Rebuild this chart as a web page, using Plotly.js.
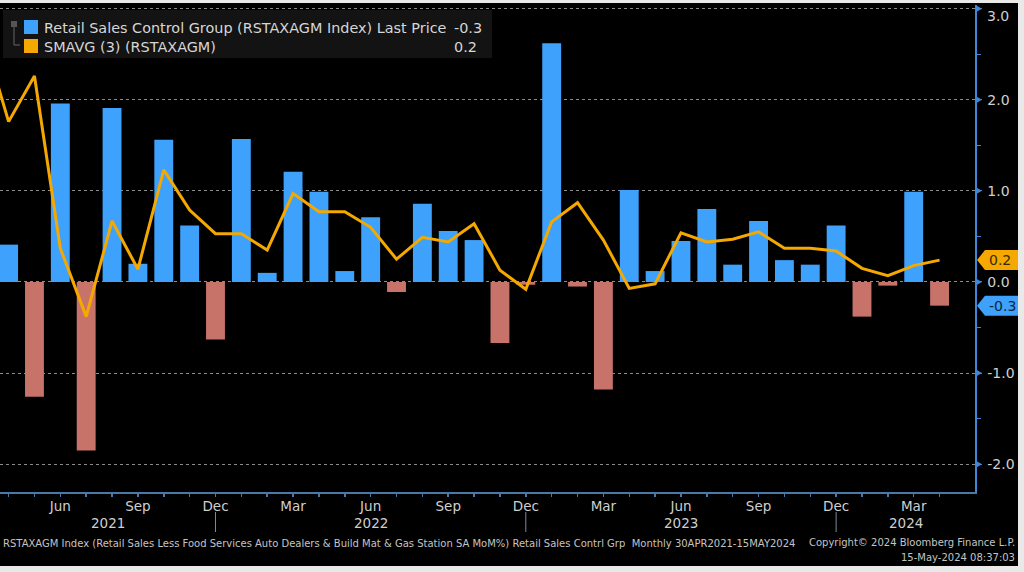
<!DOCTYPE html>
<html>
<head>
<meta charset="utf-8">
<script src="https://cdn.plot.ly/plotly-3.0.1.min.js"></script>
<style>
  html, body { margin: 0; padding: 0; background: #e9e9e9; width: 1024px; height: 572px; overflow: hidden; }
  #chart { position: absolute; left: 0; top: 3px; width: 1018px; height: 563px; background: #000; }
</style>
</head>
<body>
<div id="chart"></div>
<script>
// ---------- data ----------
const months = ['Mar 2021','Apr 2021','May 2021','Jun 2021','Jul 2021','Aug 2021','Sep 2021','Oct 2021','Nov 2021','Dec 2021',
  'Jan 2022','Feb 2022','Mar 2022','Apr 2022','May 2022','Jun 2022','Jul 2022','Aug 2022','Sep 2022','Oct 2022','Nov 2022','Dec 2022',
  'Jan 2023','Feb 2023','Mar 2023','Apr 2023','May 2023','Jun 2023','Jul 2023','Aug 2023','Sep 2023','Oct 2023','Nov 2023','Dec 2023',
  'Jan 2024','Feb 2024','Mar 2024','Apr 2024'];
const controlGroup = [null, 0.41, -1.26, 1.96, -1.85, 1.91, 0.20, 1.56, 0.62, -0.63,
  1.57, 0.10, 1.21, 0.99, 0.12, 0.71, -0.11, 0.86, 0.56, 0.46, -0.67, -0.03,
  2.62, -0.05, -1.18, 1.01, 0.12, 0.45, 0.80, 0.19, 0.67, 0.24, 0.19, 0.62,
  -0.38, -0.04, 0.99, -0.26];
const smavg3 = [2.72, 1.76, 2.26, 0.37, -0.38, 0.67, 0.14, 1.23, 0.79, 0.53,
  0.53, 0.35, 0.97, 0.77, 0.77, 0.60, 0.25, 0.49, 0.44, 0.64, 0.13, -0.08,
  0.66, 0.87, 0.46, -0.07, -0.02, 0.54, 0.44, 0.47, 0.55, 0.37, 0.37, 0.34,
  0.15, 0.07, 0.18, 0.24];
const quarterMonths = ['Mar','Jun','Sep','Dec'];
const years = ['2021','2022','2023','2024'];
const yTicks = [-2, -1, 0, 1, 2, 3];
const seriesNames = ['Retail Sales Control Group (RSTAXAGM Index) Last Price', 'SMAVG (3) (RSTAXAGM)'];
const lastControl = '-0.3';
const lastSma = '0.2';
const footerLeft = 'RSTAXAGM Index (Retail Sales Less Food Services Auto Dealers & Build Mat & Gas Station SA MoM%) Retail Sales Contrl Grp  Monthly 30APR2021-15MAY2024';
const footerRight1 = 'Copyright\u00A9 2024 Bloomberg Finance L.P.';
const footerRight2 = '15-May-2024 08:37:03';

// ---------- styling ----------
const BLUE = '#3ea1fb', RED = '#c8736a', ORANGE = '#f5a800';
const TXT = '#cfcfcf';
const FONT = 'DejaVu Sans, Liberation Sans, sans-serif';
const W = 1018, H = 563, ML = 0, MR = 43, MT = 2, MB = 74;
const PW = W - ML - MR, PH = H - MT - MB;
// page-pixel helpers -> paper coordinates (div top at page y=3)
const px = x => (x - ML) / PW;
const py = y => 1 - ((y - 3) - MT) / PH;

const xRange = [0.667, 38.37];
const yRange = [-2.305, 3.04];

const tickText = months.map(m => quarterMonths.includes(m.slice(0,3)) ? m.slice(0,3) : '');
const barColors = controlGroup.map(v => v === null ? BLUE : (v >= 0 ? BLUE : RED));

const traces = [
  { type: 'bar', x: months, y: controlGroup, marker: { color: barColors, line: { width: 0 } },
    width: 0.73, name: seriesNames[0], hoverinfo: 'x+y' },
  { type: 'scatter', mode: 'lines', x: months, y: smavg3, line: { color: ORANGE, width: 3 },
    name: seriesNames[1], cliponaxis: true }
];

const shapes = [];
const annotations = [];

// December separators & year labels
const decIdx = months.map((m, i) => m.startsWith('Dec') ? i : -1).filter(i => i >= 0);
decIdx.forEach(i => shapes.push({ type: 'line', xref: 'x', yref: 'paper', x0: i, x1: i, y0: py(512), y1: py(532),
  line: { color: '#7d8b99', width: 1 } }));
const bounds = [xRange[0], ...decIdx, xRange[1]];
years.forEach((yr, k) => annotations.push({ xref: 'x', yref: 'paper', x: (bounds[k] + bounds[k+1]) / 2, y: py(523),
  text: yr, showarrow: false, font: { family: FONT, size: 13.5, color: TXT }, xanchor: 'center', yanchor: 'middle' }));

// right-axis triangle markers at major ticks
const pxW = 1 / PW;
yTicks.forEach(v => {
  const dy = 4 * (yRange[1] - yRange[0]) / PH;
  shapes.push({ type: 'path', xref: 'paper', yref: 'y', fillcolor: '#3f86d8', line: { width: 0 },
    path: `M1,${v - dy} L${1 + 7 * pxW},${v} L1,${v + dy} Z` });
});
// top tick label (pushed down inside the frame as in the reference)
const topTick = Math.max(...yTicks);
annotations.push({ xref: 'paper', yref: 'paper', x: px(985), y: py(16), text: topTick.toFixed(1), showarrow: false,
  xanchor: 'left', yanchor: 'middle', font: { family: FONT, size: 14, color: TXT } });

// value tags on the right
function tag(val, text, fill, tcolor) {
  const h = 10 * (yRange[1] - yRange[0]) / PH;
  const x0 = px(977), x1 = px(985), x2 = px(1018);
  shapes.push({ type: 'path', xref: 'paper', yref: 'y', fillcolor: fill, line: { width: 0 },
    path: `M${x0},${val} L${x1},${val + h} L${x2},${val + h} L${x2},${val - h} L${x1},${val - h} Z` });
  annotations.push({ xref: 'paper', yref: 'y', x: px(987), y: val, text: text, showarrow: false,
    xanchor: 'left', yanchor: 'middle', font: { family: FONT, size: 14, color: tcolor } });
}
tag(smavg3[smavg3.length - 1], lastSma, ORANGE, '#3b2a00');
tag(controlGroup[controlGroup.length - 1], lastControl, BLUE, '#0b2440');

// legend box
shapes.push({ type: 'rect', xref: 'paper', yref: 'paper', x0: px(3), x1: px(492), y0: py(58), y1: py(10),
  fillcolor: '#131313', line: { width: 0 }, layer: 'above' });
shapes.push({ type: 'rect', xref: 'paper', yref: 'paper', x0: px(11), x1: px(17), y0: py(27), y1: py(21),
  fillcolor: '#555', line: { width: 0 } });
shapes.push({ type: 'path', xref: 'paper', yref: 'paper', line: { color: '#666', width: 1 },
  path: `M${px(14)},${py(27)} L${px(14)},${py(45)} L${px(20)},${py(45)}` });
shapes.push({ type: 'rect', xref: 'paper', yref: 'paper', x0: px(24), x1: px(38), y0: py(34), y1: py(20),
  fillcolor: BLUE, line: { width: 0 } });
shapes.push({ type: 'rect', xref: 'paper', yref: 'paper', x0: px(24), x1: px(38), y0: py(53), y1: py(39),
  fillcolor: ORANGE, line: { width: 0 } });
const legFont = { family: FONT, size: 14.4, color: '#d6d6d6' };
annotations.push({ xref: 'paper', yref: 'paper', x: px(42), y: py(28), text: seriesNames[0], showarrow: false, xanchor: 'left', yanchor: 'middle', font: legFont });
annotations.push({ xref: 'paper', yref: 'paper', x: px(42), y: py(47), text: seriesNames[1], showarrow: false, xanchor: 'left', yanchor: 'middle', font: legFont });
annotations.push({ xref: 'paper', yref: 'paper', x: px(452), y: py(28), text: lastControl, showarrow: false, xanchor: 'left', yanchor: 'middle', font: legFont });
annotations.push({ xref: 'paper', yref: 'paper', x: px(452), y: py(47), text: lastSma, showarrow: false, xanchor: 'left', yanchor: 'middle', font: legFont });

// footer
const footFont = { family: FONT, size: 10, color: '#c4c4c4' };
annotations.push({ xref: 'paper', yref: 'paper', x: px(1), y: py(543), text: footerLeft, showarrow: false, xanchor: 'left', yanchor: 'middle', font: footFont });
annotations.push({ xref: 'paper', yref: 'paper', x: px(1017), y: py(542), text: footerRight1, showarrow: false, xanchor: 'right', yanchor: 'middle', font: footFont });
annotations.push({ xref: 'paper', yref: 'paper', x: px(1017), y: py(557), text: footerRight2, showarrow: false, xanchor: 'right', yanchor: 'middle', font: footFont });

const layout = {
  width: W, height: H,
  margin: { l: ML, r: MR, t: MT, b: MB, pad: 0 },
  paper_bgcolor: '#000', plot_bgcolor: '#000',
  showlegend: false,
  bargap: 0.27,
  font: { family: FONT, color: TXT, size: 14 },
  xaxis: {
    type: 'category', range: xRange, tickmode: 'array', tickvals: months, ticktext: tickText,
    showgrid: false, zeroline: false, showline: true, linecolor: '#4c77a6', linewidth: 1.5,
    ticks: 'outside', ticklen: 3, tickwidth: 1.5, tickcolor: '#4c77a6',
    tickfont: { family: FONT, size: 13.5, color: TXT }, ticklabelstandoff: -2, fixedrange: true
  },
  yaxis: {
    side: 'right', range: yRange, tickmode: 'array', tickvals: yTicks,
    ticktext: yTicks.map(v => v.toFixed(1)),
    showgrid: true, gridcolor: '#8c8c8c', griddash: 'dot', gridwidth: 1, zeroline: false,
    showline: true, linecolor: '#3f86d8', linewidth: 1.5,
    ticks: 'outside', ticklen: 5, tickwidth: 1, tickcolor: '#3f86d8',
    minor: { dtick: 0.5, tick0: 0, ticks: 'outside', ticklen: 4, tickcolor: '#3f86d8', showgrid: false },
    tickfont: { family: FONT, size: 14, color: TXT }, ticklabelstandoff: 3, fixedrange: true
  },
  shapes: shapes,
  annotations: annotations
};

Plotly.newPlot('chart', traces, layout, { staticPlot: true, displayModeBar: false });
</script>
</body>
</html>
